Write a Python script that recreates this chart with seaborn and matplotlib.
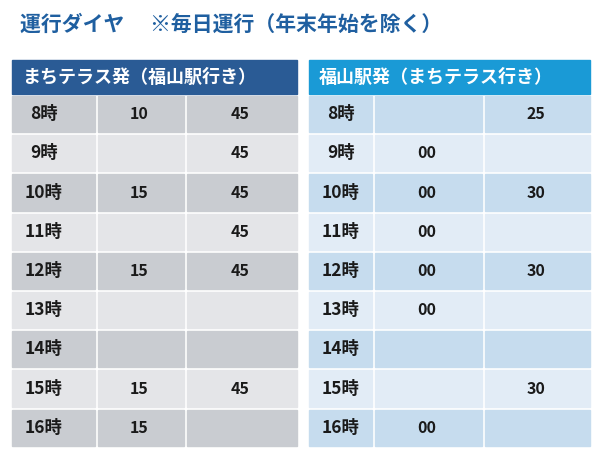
import matplotlib
matplotlib.use("Agg")
import matplotlib.pyplot as plt
import seaborn as sns
from matplotlib.patches import Rectangle

sns.set_theme(style="white")
plt.rcParams['font.family'] = ['Noto Sans CJK JP', 'DejaVu Sans']

hours = ["8時", "9時", "10時", "11時", "12時", "13時", "14時", "15時", "16時"]
left_a = ["10", "", "15", "", "15", "", "", "15", "15"]
left_b = ["45", "45", "45", "45", "45", "", "", "45", ""]
right_a = ["", "00", "00", "00", "00", "00", "", "", "00"]
right_b = ["25", "", "30", "", "30", "", "", "30", ""]

fig = plt.figure(figsize=(6.0, 4.54), dpi=100)
ax = fig.add_axes([0, 0, 1, 1])
ax.set_xlim(0, 600)
ax.set_ylim(454, 0)
ax.axis("off")

ax.text(20, 24, "運行ダイヤ　 ※毎日運行（年末年始を除く）", color="#1f5fa0",
        fontsize=15, fontweight="bold", va="center")

def table(x0, cols, head, head_color, dark, light, a, b):
    ax.add_patch(Rectangle((x0, 60), cols[-1] - x0, 34, color=head_color))
    ax.text(x0 + 10, 77, head, color="white", fontsize=13, fontweight="bold", va="center")
    top, h = 96, 36.2
    edges = [x0] + cols
    for i, hr in enumerate(hours):
        y = top + i * (h + 3)
        c = dark if i % 2 == 0 else light
        for j in range(3):
            l = edges[j] + (3 if j else 0)
            ax.add_patch(Rectangle((l, y), edges[j + 1] - l, h, color=c))
        cy = y + h / 2
        ax.text(x0 + 32, cy, hr, fontsize=12.5, fontweight="bold", va="center", ha="center", color="#1a1a1a")
        ax.text((edges[1] + edges[2]) / 2, cy, a[i], fontsize=11.5, fontweight="bold", va="center", ha="center", color="#1a1a1a")
        ax.text((edges[2] + edges[3]) / 2, cy, b[i], fontsize=11.5, fontweight="bold", va="center", ha="center", color="#1a1a1a")

table(12, [95, 184, 297], "まちテラス発（福山駅行き）", "#2a5b95", "#c9ccd1", "#e4e5e8", left_a, left_b)
table(309, [372, 482, 590], "福山駅発（まちテラス行き）", "#1a9ad6", "#c6dcee", "#e2ecf6", right_a, right_b)

fig.savefig("out.png", dpi=100)
